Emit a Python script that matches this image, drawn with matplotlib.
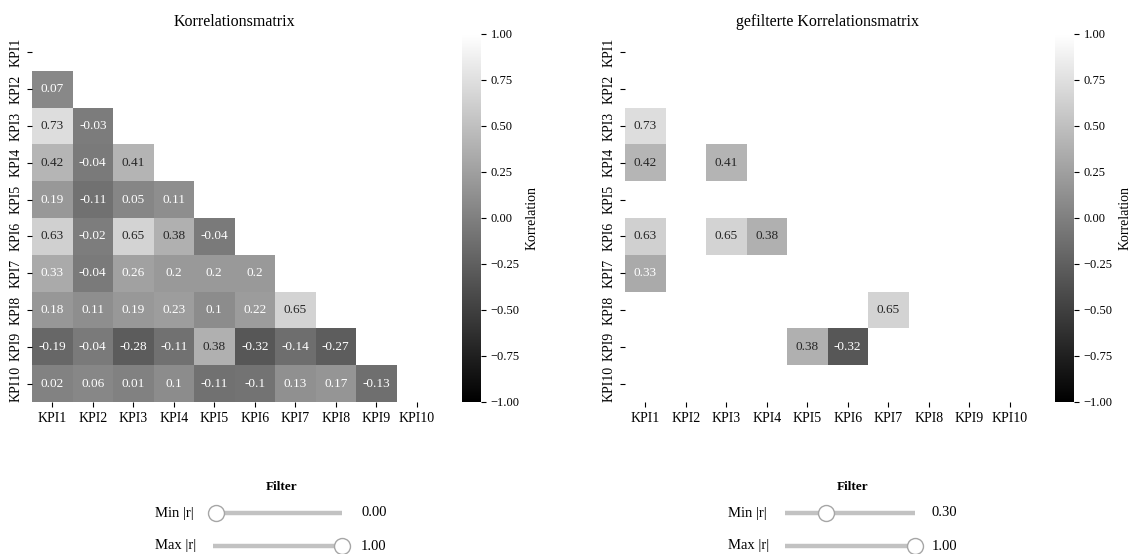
import matplotlib

matplotlib.use("Agg")  # Save graph only.

import matplotlib.pyplot as plt
import numpy as np
import pandas as pd
import seaborn as sns


# ---------------------------------------------------------------------------
# Data
# ---------------------------------------------------------------------------

KPIS = [f"KPI{i}" for i in range(1, 11)]

# lower triangle, row KPI2 .. KPI10
LOWER_ROWS = [
    [0.07],
    [0.73, -0.03],
    [0.42, -0.04, 0.41],
    [0.19, -0.11, 0.05, 0.11],
    [0.63, -0.02, 0.65, 0.38, -0.04],
    [0.33, -0.04, 0.26, 0.2, 0.2, 0.2],
    [0.18, 0.11, 0.19, 0.23, 0.1, 0.22, 0.65],
    [-0.19, -0.04, -0.28, -0.11, 0.38, -0.32, -0.14, -0.27],
    [0.02, 0.06, 0.01, 0.1, -0.11, -0.1, 0.13, 0.17, -0.13],
]

PANEL_TITLES = ["Korrelationsmatrix", "gefilterte Korrelationsmatrix"]
FILTER_MIN = [0.00, 0.30]
FILTER_MAX = [1.00, 1.00]

W, H = 1131, 554


def px(x0, y0, x1, y1):
    """pixel box (top-left origin) -> figure fraction rect"""
    return [x0 / W, 1 - y1 / H, (x1 - x0) / W, (y1 - y0) / H]


def build_corr():
    n = len(KPIS)
    mat = np.eye(n)
    for i, row in enumerate(LOWER_ROWS, start=1):
        for j, v in enumerate(row):
            mat[i, j] = v
            mat[j, i] = v
    return pd.DataFrame(mat, index=KPIS, columns=KPIS)


def draw_slider(fig, x0, x1, y, label, value, label_x, value_x):
    ax = fig.add_axes(px(x0, y - 10, x1, y + 10))
    ax.set_xlim(0, 1)
    ax.set_ylim(-1, 1)
    ax.axis("off")
    ax.plot([-0.02, 1.0], [0, 0], color="#c2c2c2", lw=3.2,
            solid_capstyle="butt", clip_on=False, zorder=1)
    ax.plot([value], [0], marker="o", ms=11.5, mfc="white",
            mec="#a6a6a6", mew=1.0, clip_on=False, zorder=2)
    fig.text(label_x / W, 1 - y / H, label, fontsize=10.5,
             ha="left", va="center")
    fig.text(value_x / W, 1 - y / H, f"{value:.2f}", fontsize=10.5,
             ha="left", va="center")


plt.rcParams["font.family"] = "serif"
plt.rcParams["font.serif"] = ["Liberation Serif", "DejaVu Serif"]

corr = build_corr()
base_mask = np.triu(np.ones(corr.shape, dtype=bool))

fig = plt.figure(figsize=(W / 100, H / 100), dpi=100)

panels = [
    dict(ax=(32, 437), cbar=(462, 481), filt=282, label_x=155,
         track=(216, 342), value_x=361),
    dict(ax=(625, 1030), cbar=(1055, 1074), filt=853, label_x=728,
         track=(788, 915), value_x=932),
]

for k, p in enumerate(panels):
    ax = fig.add_axes(px(p["ax"][0], 34, p["ax"][1], 402))
    cax = fig.add_axes(px(p["cbar"][0], 34, p["cbar"][1], 402))

    absval = corr.abs().to_numpy()
    mask = base_mask | (absval < FILTER_MIN[k]) | (absval > FILTER_MAX[k])

    sns.heatmap(
        corr,
        mask=mask,
        cmap="gray",
        vmin=-1,
        vmax=1,
        annot=True,
        fmt="g",
        annot_kws={"size": 9.5},
        ax=ax,
        cbar_ax=cax,
        cbar_kws={"label": "Korrelation"},
    )
    ax.set_title(PANEL_TITLES[k], fontsize=11.5)
    ax.tick_params(labelsize=10)
    cax.tick_params(labelsize=9)
    cax.yaxis.label.set_size(10)

    fig.text(p["filt"] / W, 1 - 487 / H, "Filter", fontsize=9.5,
             fontweight="bold", ha="center", va="center")
    draw_slider(fig, p["track"][0], p["track"][1], 513, "Min |r|",
                FILTER_MIN[k], p["label_x"], p["value_x"])
    draw_slider(fig, p["track"][0], p["track"][1], 546, "Max |r|",
                FILTER_MAX[k], p["label_x"], p["value_x"])

fig.savefig("out.png", dpi=100)
plt.close(fig)
